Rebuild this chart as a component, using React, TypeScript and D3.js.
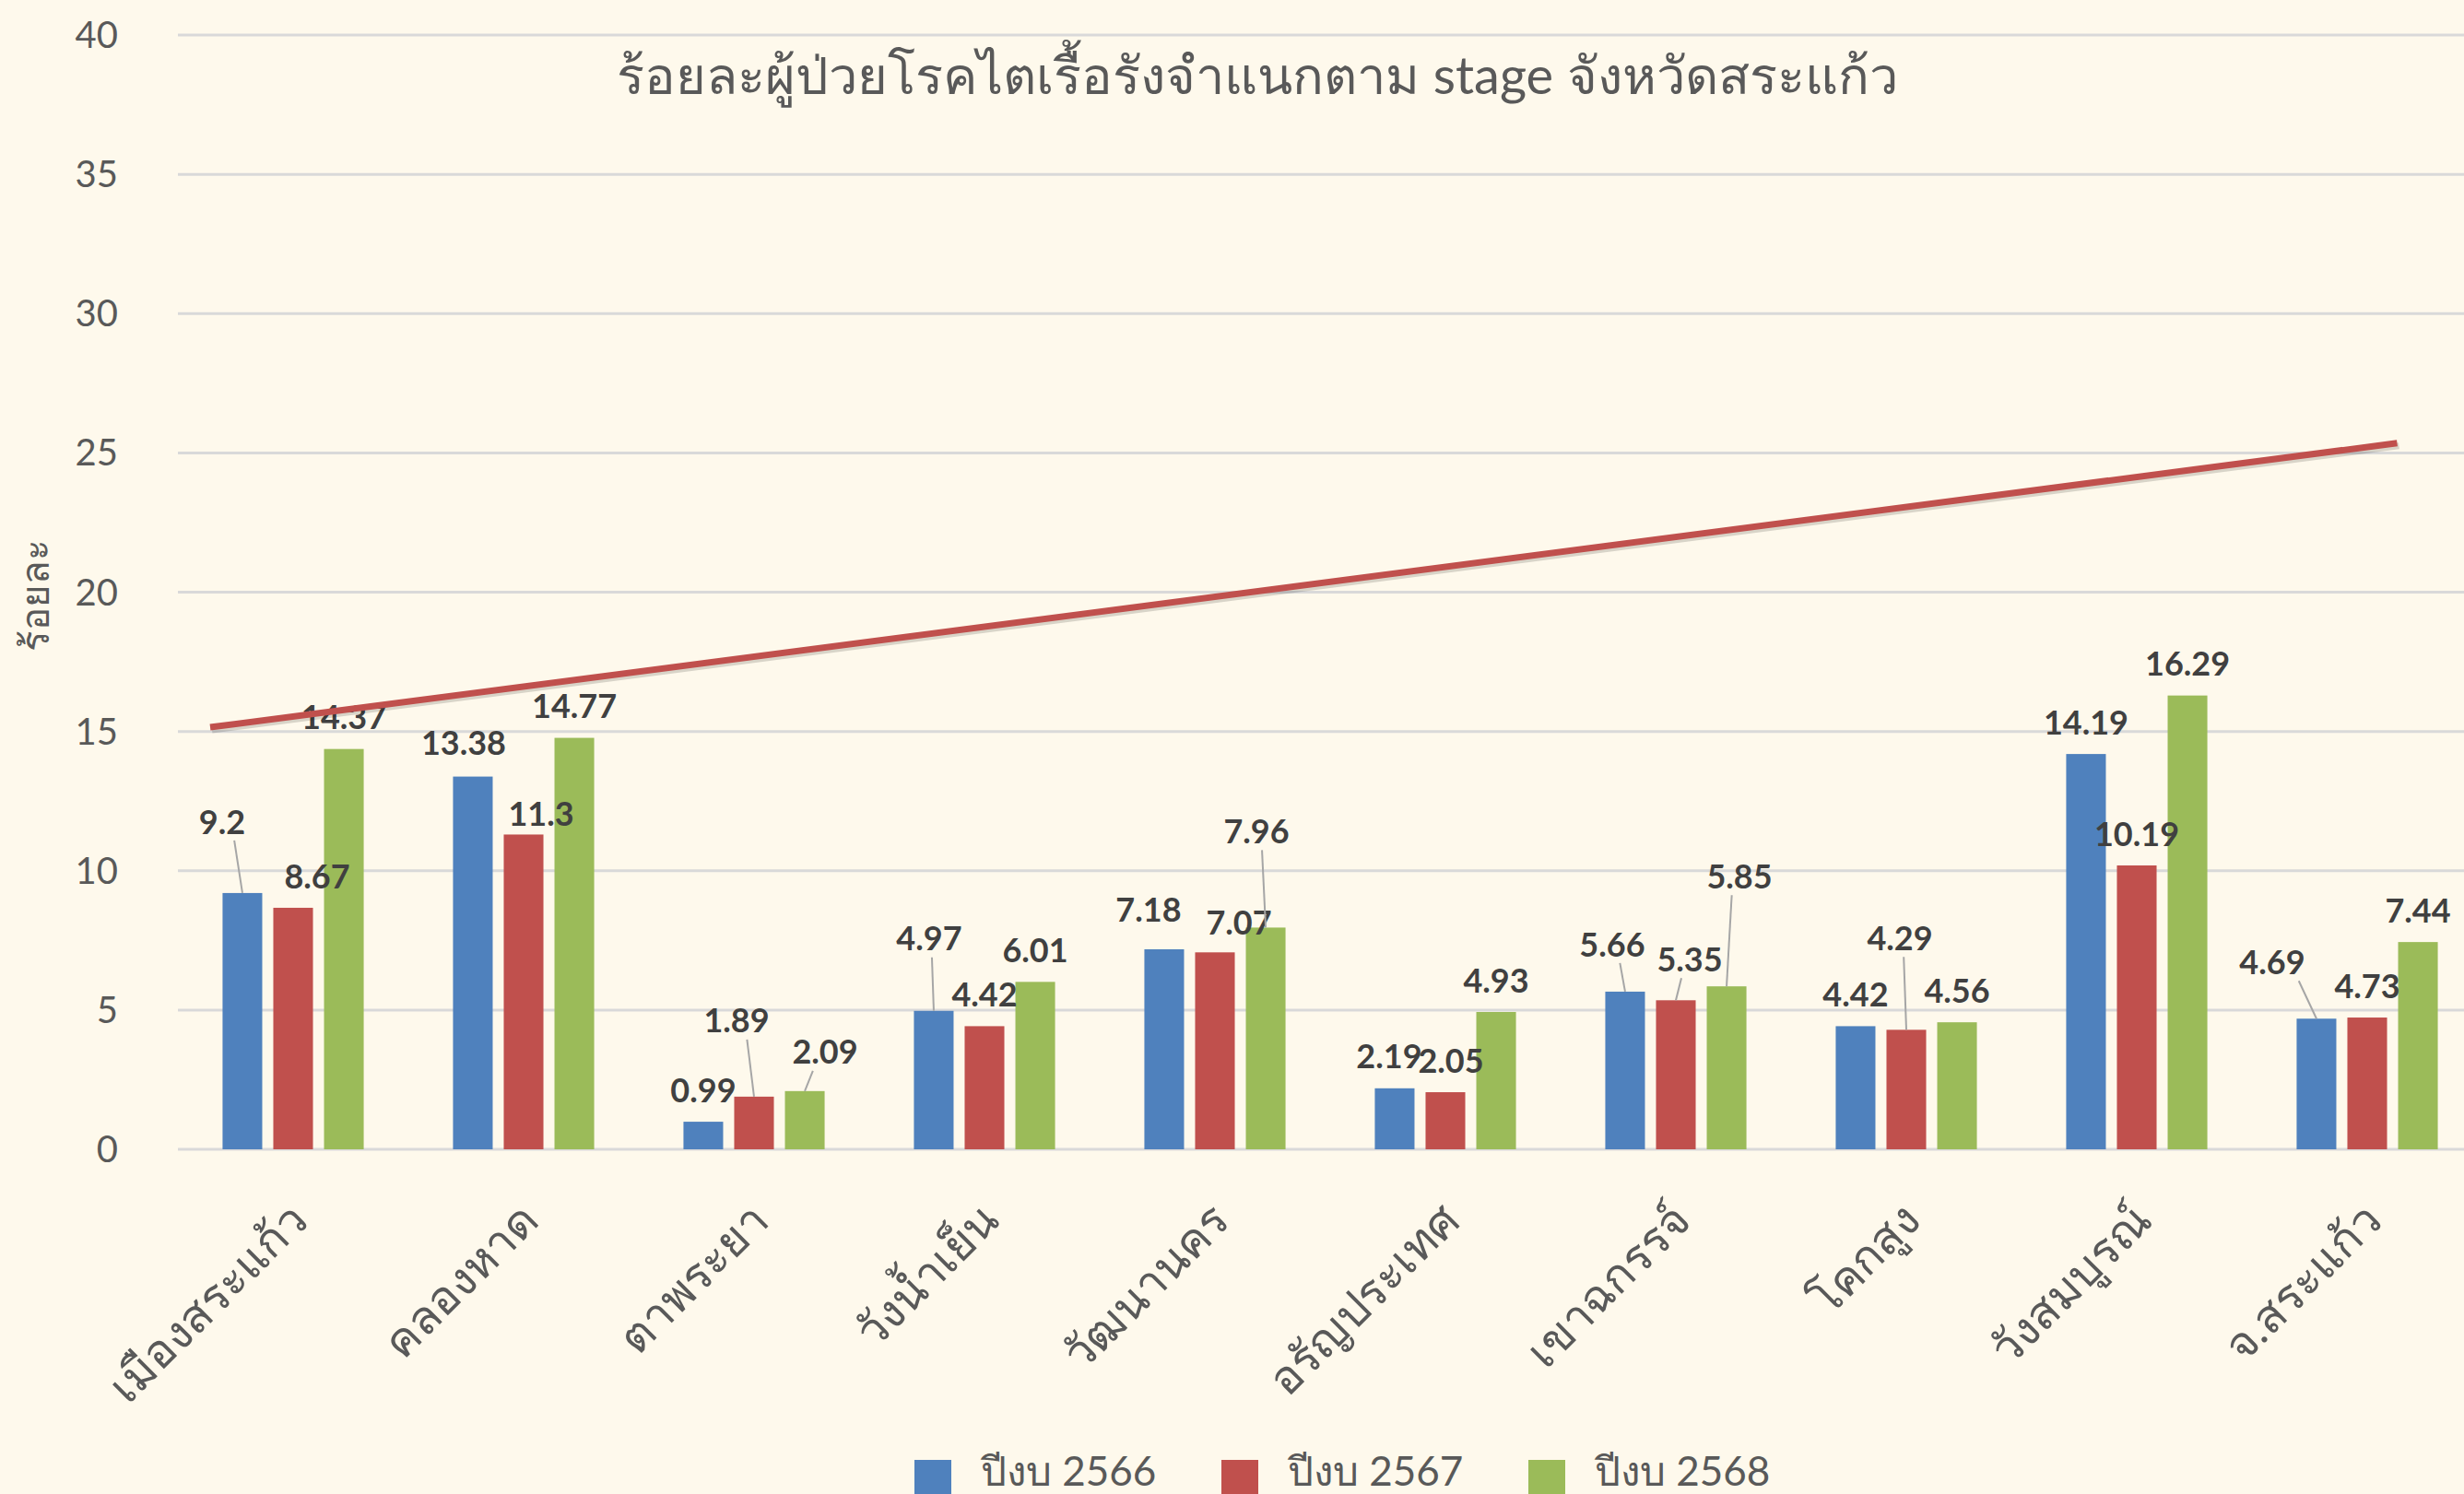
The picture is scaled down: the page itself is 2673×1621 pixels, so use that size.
import React from 'react';
import * as d3 from 'd3';

const categories = ['เมืองสระแก้ว', 'คลองหาด', 'ตาพระยา', 'วังน้ำเย็น', 'วัฒนานคร', 'อรัญประเทศ', 'เขาฉกรรจ์', 'โคกสูง', 'วังสมบูรณ์', 'จ.สระแก้ว'];
const seriesNames = ['ปีงบ 2566', 'ปีงบ 2567', 'ปีงบ 2568'];
const values2566 = [9.2, 13.38, 0.99, 4.97, 7.18, 2.19, 5.66, 4.42, 14.19, 4.69];
const values2567 = [8.67, 11.3, 1.89, 4.42, 7.07, 2.05, 5.35, 4.29, 10.19, 4.73];
const values2568 = [14.37, 14.77, 2.09, 6.01, 7.96, 4.93, 5.85, 4.56, 16.29, 7.44];
const yTicks = [0, 5, 10, 15, 20, 25, 30, 35, 40];
// hand-drawn red line on the slide: [category position, value]
const redLine: [number, number][] = [[-0.36, 15.15], [9.13, 25.35]];

const colors = ['#4F81BD', '#C0504D', '#9BBB59'];
const W = 2673;
const H = 1621;
const bg = '#FEF9EC';
const font = 'Lato, "Noto Sans", sans-serif';

// label nudges (px) for labels Excel moved off the bar: [dx, dy from bar top, leader?]
const D: [number, number, number] = [0, -34, 0];
const labelNudge: [number, number, number][][] = [
  [[-22, -77, 1], [-10, -36, 0], D, [-5, -78, 1], [-17, -43, 0], [-6, -34, 0], [-14, -51, 1], D, D, [-48, -61, 1]],
  [[26, -34, 0], [19, -22, 0], [-19, -82, 1], D, [26, -32, 0], [6, -34, 0], [15, -44, 1], [-7, -99, 1], D, D],
  [D, D, [22, -42, 1], D, [-10, -104, 1], D, [14, -119, 1], D, D, D],
];

const App: React.FC = () => {
  const series = [values2566, values2567, values2568];
  const left = 193;
  const x0 = d3.scaleBand<string>().domain(categories).range([left, left + 2500]);
  const x1 = d3.scaleBand<string>().domain(seriesNames).range([0, x0.bandwidth()])
    .paddingInner(0.218).paddingOuter(0.88);
  const y = d3.scaleLinear().domain([0, 40]).range([1247, 38]);
  const xPos = d3.scaleLinear().domain([0, 1])
    .range([x0(categories[0])! + x0.bandwidth() / 2, x0(categories[1])! + x0.bandwidth() / 2]);
  const line = d3.line<[number, number]>().x(d => xPos(d[0])).y(d => y(d[1]));

  return (
    <div style={{ position: 'absolute', left: 0, top: 0 }}>
      <svg width={W} height={H} style={{ display: 'block', background: bg }}>
        <rect width={W} height={H} fill={bg} />
        {yTicks.map(t => (
          <g key={t}>
            <line x1={left} x2={W} y1={y(t)} y2={y(t)} stroke="#D9D9D9" strokeWidth={3} />
            <text x={128} y={y(t)} dy="0.35em" textAnchor="end" fontFamily={font} fontSize={40} fill="#595959">{t}</text>
          </g>
        ))}
        <text transform={`translate(38,646) rotate(-90)`} textAnchor="middle" dy="0.35em"
          fontFamily={font} fontSize={42} fill="#595959">ร้อยละ</text>
        <text x={1364} y={102} textAnchor="middle" fontFamily={font} fontSize={56} fill="#595959">
          ร้อยละผู้ป่วยโรคไตเรื้อรังจำแนกตาม stage จังหวัดสระแก้ว
        </text>

        {categories.map((c, i) => (
          <g key={c}>
            {series.map((vals, s) => {
              const bx = x0(c)! + x1(seriesNames[s])!;
              return (
                <rect key={s} x={bx} y={y(vals[i])} width={x1.bandwidth()} height={y(0) - y(vals[i])} fill={colors[s]} />
              );
            })}
          </g>
        ))}

        {categories.map((c, i) => (
          <g key={c + 'lab'}>
            {series.map((vals, s) => {
              const cx = x0(c)! + x1(seriesNames[s])! + x1.bandwidth() / 2;
              const top = y(vals[i]);
              const [dx, dy, leader] = labelNudge[s][i];
              const lx = cx + dx;
              const ly = top + dy;
              const sx = lx + Math.max(-30, Math.min(30, (cx - lx) * 0.6));
              return (
                <g key={s}>
                  {leader ? <line x1={sx} y1={ly + 20} x2={cx} y2={top} stroke="#A6A6A6" strokeWidth={2} /> : null}
                  <text x={lx} y={ly} dy="0.35em" textAnchor="middle" fontFamily={font} fontWeight="bold"
                    fontSize={36} fill="#404040">{vals[i]}</text>
                </g>
              );
            })}
          </g>
        ))}

        <path d={line(redLine) || ''} stroke="#000" strokeOpacity={0.15} strokeWidth={7} fill="none" transform="translate(2,3)" />
        <path d={line(redLine) || ''} stroke="#C0504D" strokeWidth={7} fill="none" />

        {categories.map(c => {
          const cx = x0(c)! + x0.bandwidth() / 2;
          return (
            <text key={c + 'cat'} transform={`translate(${cx + 6},${y(0) + 68}) rotate(-45)`} textAnchor="end"
              dy="0.35em" fontFamily={font} fontSize={50} fill="#595959">{c}</text>
          );
        })}

        {seriesNames.map((n, s) => {
          const lx = 992 + s * 333;
          return (
            <g key={n}>
              <rect x={lx} y={1584} width={40} height={40} fill={colors[s]} />
              <text x={lx + 72} y={1612} fontFamily={font} fontSize={44} fill="#595959">{n}</text>
            </g>
          );
        })}
      </svg>
    </div>
  );
};

export default App;
